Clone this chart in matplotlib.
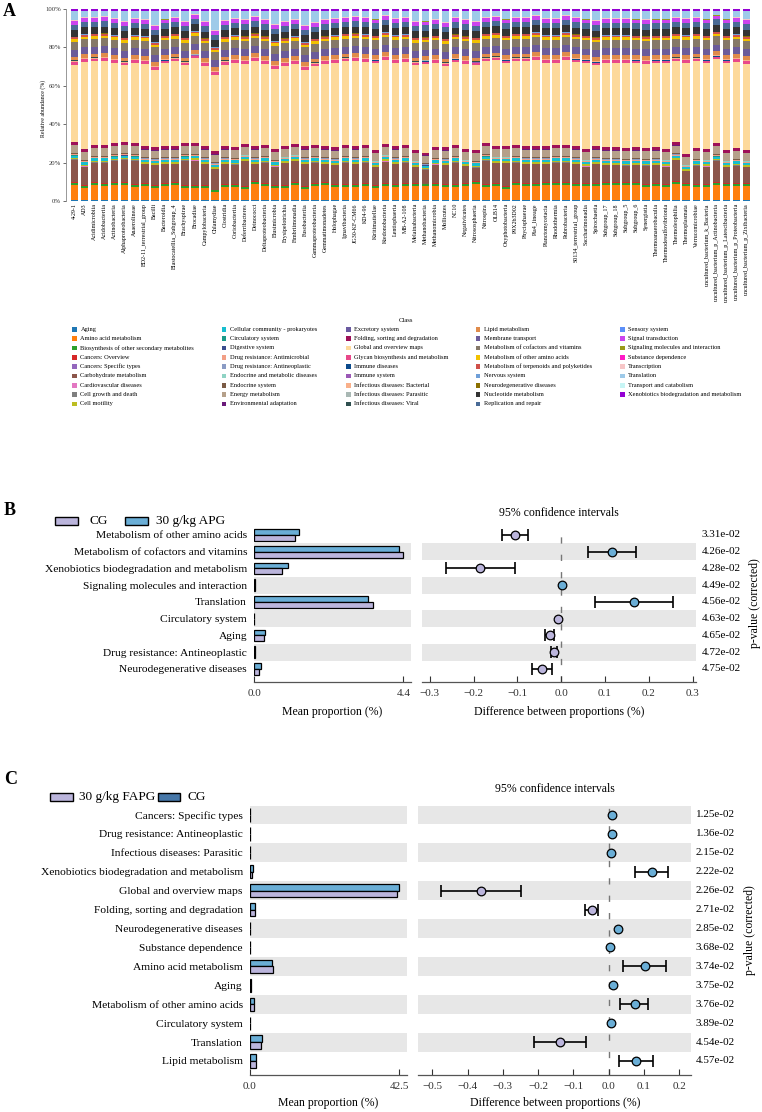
import matplotlib
matplotlib.use('Agg')
import matplotlib.pyplot as plt
from matplotlib.patches import Rectangle
from matplotlib.transforms import blended_transform_factory
import numpy as np

plt.rcParams['font.family'] = ['Liberation Serif', 'DejaVu Serif']
plt.rcParams['axes.unicode_minus'] = True

# ------------------------------------------------------------------ data A
taxa = ["4-29-1", "AD3", "Acidimicrobiia", "Acidobacteriia", "Actinobacteria",
        "Alphaproteobacteria", "Anaerolineae", "BD2-11_terrestrial_group", "Bacilli",
        "Bacteroidia", "Blastocatellia_Subgroup_4", "Brachyspirae", "Brocadiae",
        "Campylobacteria", "Chlamydiae", "Clostridia", "Coriobacteriia", "Deferribacteres",
        "Deinococci", "Deltaproteobacteria", "Elusimicrobia", "Erysipelotrichia",
        "Fimbriimonadia", "Fusobacteriia", "Gammaproteobacteria", "Gemmatimonadetes",
        "Holophagae", "Ignavibacteria", "JG30-KF-CM66", "KD4-96", "Kiritimatiellae",
        "Ktedonobacteria", "Lentisphaeria", "MB-A2-108", "Melainabacteria",
        "Methanobacteria", "Methanomicrobia", "Mollicutes", "NC10", "Negativicutes",
        "Nitrososphaeria", "Nitrospira", "OLB14", "Oxyphotobacteria", "P9X2b3D02",
        "Phycisphaerae", "Pla4_lineage", "Planctomycetacia", "Rhodothermia",
        "Rubrobacteria", "S0134_terrestrial_group", "Saccharimonadia", "Spirochaetia",
        "Subgroup_17", "Subgroup_18", "Subgroup_5", "Subgroup_6", "Synergistia",
        "Thermoanaerobaculia", "Thermodesulfovibrionia", "Thermoleophilia",
        "Thermoplasmata", "Verrucomicrobiae", "uncultured_bacterium_k_Bacteria",
        "uncultured_bacterium_p_Actinobacteria", "uncultured_bacterium_p_Latescibacteria",
        "uncultured_bacterium_p_Proteobacteria", "uncultured_bacterium_p_Zixibacteria"]

classes = ["Aging", "Amino acid metabolism", "Biosynthesis of other secondary metabolites",
           "Cancers: Overview", "Cancers: Specific types", "Carbohydrate metabolism",
           "Cardiovascular diseases", "Cell growth and death", "Cell motility",
           "Cellular community - prokaryotes", "Circulatory system", "Digestive system",
           "Drug resistance: Antimicrobial", "Drug resistance: Antineoplastic",
           "Endocrine and metabolic diseases", "Endocrine system", "Energy metabolism",
           "Environmental adaptation", "Excretory system", "Folding, sorting and degradation",
           "Global and overview maps", "Glycan biosynthesis and metabolism", "Immune diseases",
           "Immune system", "Infectious diseases: Bacterial", "Infectious diseases: Parasitic",
           "Infectious diseases: Viral", "Lipid metabolism", "Membrane transport",
           "Metabolism of cofactors and vitamins", "Metabolism of other amino acids",
           "Metabolism of terpenoids and polyketides", "Nervous system",
           "Neurodegenerative diseases", "Nucleotide metabolism", "Replication and repair",
           "Sensory system", "Signal transduction", "Signaling molecules and interaction",
           "Substance dependence", "Transcription", "Translation", "Transport and catabolism",
           "Xenobiotics biodegradation and metabolism"]

class_colors = ["#1f77b4", "#ff7f0e", "#2ca02c", "#d62728", "#9467bd", "#8c564b",
                "#e377c2", "#7f7f7f", "#bcbd22", "#17becf", "#1a9a88", "#3b4d8e",
                "#f29f86", "#8a9bc4", "#8fd3c4", "#7b5b45", "#b5a08a", "#6a1b7a",
                "#6a5aa0", "#9e1058", "#fdd99b", "#e8488a", "#0b4a8b", "#9b59b6",
                "#f9b08a", "#a9b8b4", "#2f4f4f", "#e08b4a", "#6b5b9a", "#857868",
                "#f2c200", "#d0504a", "#6f9fd8", "#8b7000", "#333333", "#4a6b96",
                "#5b8ff9", "#cc44ee", "#9a9a1a", "#ff1ac6", "#f7c6c7", "#9ecae9",
                "#c7f5f5", "#9400d3"]

# typical share (%) of each class; per-taxon lists below replace the major ones
typical_share = [0.5, 7.5, 1.0, 0.25, 0.05, 10.0, 0.1, 0.2, 0.8, 1.2, 0.03, 0.05,
                 0.5, 0.2, 0.1, 0.4, 4.0, 0.15, 0.03, 1.5, 43.0, 1.3, 0.1, 0.1,
                 0.4, 0.1, 0.1, 2.0, 3.5, 4.3, 1.2, 1.0, 0.1, 0.2, 3.5, 2.8,
                 0.05, 2.0, 0.05, 0.05, 0.4, 3.4, 0.2, 1.0]

amino_taxa = [8.0, 6.5, 8.0, 7.5, 8.0, 8.0, 7.0, 7.5, 6.5, 7.5,
              8.0, 6.5, 6.5, 6.5, 4.0, 7.0, 7.0, 6.0, 8.5, 7.5,
              6.5, 6.5, 8.0, 6.0, 7.5, 8.0, 7.0, 7.0, 7.0, 7.5,
              6.5, 7.5, 7.0, 7.5, 7.5, 7.5, 7.5, 7.0, 7.0, 7.5,
              8.5, 7.0, 7.5, 6.0, 8.0, 7.5, 7.5, 8.0, 8.0, 8.0,
              7.5, 7.5, 7.5, 8.0, 8.0, 8.0, 8.0, 7.0, 7.5, 7.0,
              8.5, 7.5, 7.0, 7.0, 8.0, 7.5, 7.5, 7.5]
carb_taxa = [11.6, 9.6, 10.1, 10.6, 11.1, 11.6, 12.1, 9.9, 10.4, 9.9,
             9.4, 12.6, 13.0, 10.9, 10.8, 10.4, 10.1, 12.8, 8.9, 10.6,
             9.6, 11.3, 10.8, 11.4, 10.6, 9.4, 9.9, 11.1, 10.4, 10.6,
             9.2, 11.3, 10.4, 10.6, 8.2, 7.3, 9.9, 9.9, 11.1, 8.7,
             7.0, 12.1, 10.3, 11.8, 10.1, 9.9, 9.9, 9.4, 10.1, 10.1,
             9.9, 8.7, 9.9, 8.9, 8.9, 8.6, 8.9, 9.6, 9.4, 9.2,
             11.0, 6.1, 9.6, 9.2, 11.1, 8.2, 9.1, 8.2]
global_taxa = [40.5, 45.5, 43.7, 44.0, 42.0, 40.1, 42.0, 43.2, 40.5, 43.5,
               44.4, 40.6, 44.6, 42.1, 40.0, 42.7, 44.0, 41.6, 44.7, 42.3,
               41.9, 41.7, 41.8, 40.0, 41.0, 43.0, 44.2, 43.7, 44.7, 43.5,
               45.2, 43.9, 43.7, 43.5, 44.0, 47.3, 44.4, 42.2, 43.3, 44.2,
               44.3, 42.7, 44.5, 43.1, 43.7, 44.4, 45.3, 43.7, 43.0, 44.6,
               44.0, 44.7, 42.5, 44.2, 44.2, 44.5, 44.0, 43.8, 44.0, 44.7,
               42.3, 47.5, 45.2, 44.7, 43.9, 45.2, 45.0, 44.7]
transl_taxa = [4.5, 3.0, 2.9, 2.6, 3.5, 5.0, 3.5, 4.0, 7.2, 3.8,
               2.9, 5.0, 1.5, 5.2, 9.8, 4.5, 3.5, 4.2, 2.6, 4.2,
               6.6, 5.2, 4.0, 7.2, 5.5, 4.2, 3.5, 2.9, 2.6, 3.0,
               3.8, 2.0, 3.5, 3.0, 5.0, 5.0, 4.0, 5.5, 3.2, 4.2,
               5.0, 2.9, 2.4, 3.8, 2.9, 2.9, 2.0, 3.5, 3.5, 2.0,
               3.2, 3.8, 4.8, 3.5, 3.5, 3.5, 3.8, 4.2, 3.8, 3.8,
               2.9, 3.5, 2.9, 3.8, 1.7, 3.8, 3.0, 4.2]

# ------------------------------------------------------------------ data B
namesB = ["Metabolism of other amino acids", "Metabolism of cofactors and vitamins",
          "Xenobiotics biodegradation and metabolism", "Signaling molecules and interaction",
          "Translation", "Circulatory system", "Aging", "Drug resistance: Antineoplastic",
          "Neurodegenerative diseases"]
apgB = [1.315, 4.28, 1.00, 0.03, 3.35, 0.006, 0.314, 0.025, 0.196]
cgB = [1.207, 4.40, 0.815, 0.03, 3.51, 0.006, 0.285, 0.025, 0.147]
diffB = [-0.106, 0.116, -0.185, 0.002, 0.167, -0.0076, -0.026, -0.017, -0.043]
loB = [-0.135, 0.062, -0.263, 0.002, 0.076, -0.0076, -0.0365, -0.024, -0.066]
hiB = [-0.077, 0.171, -0.105, 0.002, 0.256, -0.0076, -0.016, -0.009, -0.021]
pB = ["3.31e-02", "4.26e-02", "4.28e-02", "4.49e-02", "4.56e-02", "4.63e-02",
      "4.65e-02", "4.72e-02", "4.75e-02"]

# ------------------------------------------------------------------ data C
namesC = ["Cancers: Specific types", "Drug resistance: Antineoplastic",
          "Infectious diseases: Parasitic", "Xenobiotics biodegradation and metabolism",
          "Global and overview maps", "Folding, sorting and degradation",
          "Neurodegenerative diseases", "Substance dependence", "Amino acid metabolism",
          "Aging", "Metabolism of other amino acids", "Circulatory system", "Translation",
          "Lipid metabolism"]
cgC = [0.06, 0.03, 0.04, 0.85, 42.5, 1.52, 0.16, 0.04, 6.45, 0.32, 1.14, 0.03, 3.51, 1.80]
fapgC = [0.05, 0.02, 0.03, 0.73, 42.03, 1.55, 0.13, 0.03, 6.55, 0.30, 1.33, 0.02, 3.32, 1.90]
diffC = [0.010, 0.010, 0.007, 0.124, -0.361, -0.048, 0.027, 0.005, 0.103, 0.014,
         0.075, 0.006, -0.137, 0.078]
loC = [0.010, 0.010, 0.007, 0.074, -0.475, -0.066, 0.027, 0.005, 0.042, 0.014,
       0.033, 0.006, -0.212, 0.030]
hiC = [0.010, 0.010, 0.007, 0.170, -0.249, -0.029, 0.027, 0.005, 0.163, 0.014,
       0.111, 0.006, -0.064, 0.127]
pC = ["1.25e-02", "1.36e-02", "2.15e-02", "2.22e-02", "2.26e-02", "2.71e-02", "2.85e-02",
      "3.68e-02", "3.74e-02", "3.75e-02", "3.76e-02", "3.89e-02", "4.54e-02", "4.57e-02"]

BLUE = "#6aaed6"
LAV = "#bbb5dc"
BLUE_DARK = "#4677a8"
BAND = "#e7e7e7"

# ------------------------------------------------------------------ figure
W, H = 762, 1112
fig = plt.figure(figsize=(W / 100, H / 100), dpi=100)


def ax_px(l, t, r, b):
    return fig.add_axes([l / W, 1 - b / H, (r - l) / W, (b - t) / H])


def fx(x):
    return x / W


def fy(y):
    return 1 - y / H


# ------------------------------------------------------------------ panel A
axA = ax_px(66, 9, 752, 201)
nT = len(taxa)
mat = np.tile(np.array(typical_share, dtype=float)[:, None], (1, nT))
mat[classes.index("Amino acid metabolism")] = amino_taxa
mat[classes.index("Carbohydrate metabolism")] = carb_taxa
mat[classes.index("Global and overview maps")] = global_taxa
mat[classes.index("Translation")] = transl_taxa
mat = mat / mat.sum(axis=0) * 100.0

xpos = np.arange(nT)
bottom = np.zeros(nT)
for k in range(len(classes)):
    axA.bar(xpos, mat[k], bottom=bottom, width=0.76, color=class_colors[k], linewidth=0)
    bottom += mat[k]
axA.set_xlim(-0.85, nT - 1 + 0.55)
axA.set_ylim(0, 100)
axA.set_yticks([0, 20, 40, 60, 80, 100])
axA.set_yticklabels(["0%", "20%", "40%", "60%", "80%", "100%"], fontsize=4.8)
axA.set_xticks(xpos)
axA.set_xticklabels(taxa, rotation=90, fontsize=4.3)
axA.tick_params(axis='x', length=0, pad=1.5)
axA.tick_params(axis='y', length=2, width=0.5, pad=1.5, colors='#333333')
for s in ['top', 'right', 'bottom']:
    axA.spines[s].set_visible(False)
axA.spines['left'].set_color('#888888')
axA.spines['left'].set_linewidth(0.6)
fig.text(fx(43), fy(108), "Relative abundance (%)", rotation=90, ha='center', va='center',
         fontsize=4.2)

# legend A
fig.text(fx(406), fy(320), "Class", ha='center', va='center', fontsize=4.8)
col_x = [74.7, 224, 348.7, 478, 622.3]
for k, cls in enumerate(classes):
    c, r = divmod(k, 9)
    cx = col_x[c]
    cy = 329.3 + r * 9.33
    fig.patches.append(Rectangle((fx(cx - 2.3), fy(cy + 2.3)), 4.6 / W, 4.6 / H,
                                 transform=fig.transFigure, facecolor=class_colors[k],
                                 edgecolor='none'))
    fig.text(fx(cx + 5.8), fy(cy), cls, fontsize=4.6, ha='left', va='center')

fig.text(fx(3), fy(12), "A", fontsize=13, fontweight='bold', ha='left', va='center')


# ------------------------------------------------------------------ helpers for B/C
def bar_panel(ax, names, top_vals, bot_vals, top_color, bot_color, gray_rows, xmax, ticks,
              ticklabels, ylim_bottom):
    n = len(names)
    for i in gray_rows:
        ax.axhspan(i - 0.5, i + 0.5, color=BAND, lw=0, zorder=0)
    yy = np.arange(n)
    ax.barh(yy - 0.175, top_vals, height=0.35, color=top_color, edgecolor='black',
            linewidth=0.9, zorder=2)
    ax.barh(yy + 0.175, bot_vals, height=0.35, color=bot_color, edgecolor='black',
            linewidth=0.9, zorder=2)
    ax.set_ylim(ylim_bottom, -0.5)
    ax.set_xlim(0, xmax)
    ax.set_yticks(yy)
    ax.set_yticklabels(names, fontsize=8.25)
    ax.tick_params(axis='y', length=0, pad=5)
    ax.set_xticks(ticks)
    ax.set_xticklabels(ticklabels, fontsize=8)
    ax.tick_params(axis='x', direction='in', length=4, width=0.8, pad=5, colors='#333333')
    for s in ['top', 'right', 'left']:
        ax.spines[s].set_visible(False)
    ax.spines['bottom'].set_color('#555555')
    ax.spines['bottom'].set_linewidth(0.9)


def ci_panel(ax, diff, lo, hi, pvals, gray_rows, xlim, ticks, ylim_bottom, ptext_x):
    n = len(diff)
    for i in gray_rows:
        ax.axhspan(i - 0.5, i + 0.5, color=BAND, lw=0, zorder=0)
    ax.axvline(0, color='#777777', lw=1.0, ls=(0, (4.5, 8)), zorder=1)
    for i in range(n):
        d = diff[i]
        if hi[i] > lo[i]:
            ax.errorbar([d], [i], xerr=[[d - lo[i]], [hi[i] - d]], fmt='none',
                        ecolor='black', elinewidth=1.2, capsize=4.5, capthick=1.2, zorder=2)
        ax.plot([d], [i], 'o', ms=6.2, mfc=(BLUE if d > 0 else LAV), mec='black', mew=0.9,
                zorder=3)
    ax.set_ylim(ylim_bottom, -0.5)
    ax.set_xlim(*xlim)
    ax.set_yticks([])
    ax.set_xticks(ticks)
    ax.set_xticklabels([f"{t:.1f}".replace("-", "\u2212") for t in ticks], fontsize=8)
    ax.tick_params(axis='x', direction='in', length=4, width=0.8, pad=5, colors='#333333')
    for s in ['top', 'right', 'left']:
        ax.spines[s].set_visible(False)
    ax.spines['bottom'].set_color('#555555')
    ax.spines['bottom'].set_linewidth(0.9)
    tr = blended_transform_factory(ax.transAxes, ax.transData)
    for i, p in enumerate(pvals):
        ax.text(ptext_x, i, p, transform=tr, ha='left', va='center', fontsize=8)


# ------------------------------------------------------------------ panel B
axBL = ax_px(254, 526.6, 411, 681.7)
bar_panel(axBL, namesB, apgB, cgB, BLUE, LAV, [1, 3, 5, 7], 4.4 * 157 / 149.5, [0, 4.4],
          ["0.0", "4.4"], 8.76)
axBR = ax_px(422, 526.6, 695.7, 681.7)
ci_panel(axBR, diffB, loB, hiB, pB, [1, 3, 5, 7], (-0.318, 0.307),
         [-0.3, -0.2, -0.1, 0.0, 0.1, 0.2, 0.3], 8.76, 1.023)

fig.text(fx(4), fy(511), "B", fontsize=13, fontweight='bold', ha='left', va='center')
fig.text(fx(559), fy(513), "95% confidence intervals", ha='center', va='center', fontsize=8.5)
fig.text(fx(332.5), fy(712), "Mean proportion (%)", ha='center', va='center', fontsize=8.5)
fig.text(fx(559), fy(712), "Difference between proportions (%)", ha='center', va='center',
         fontsize=8.5)
fig.text(fx(755), fy(603), "p-value (corrected)", rotation=90, ha='center', va='center',
         fontsize=8.5)
# legend B
fig.patches.append(Rectangle((fx(55), fy(525)), 23 / W, 8 / H, transform=fig.transFigure,
                             facecolor=LAV, edgecolor='black', lw=1.0))
fig.text(fx(90), fy(521), "CG", fontsize=9.5, ha='left', va='center')
fig.patches.append(Rectangle((fx(125), fy(525)), 23 / W, 8 / H, transform=fig.transFigure,
                             facecolor=BLUE, edgecolor='black', lw=1.0))
fig.text(fx(156), fy(521), "30 g/kg APG", fontsize=9.5, ha='left', va='center')

# ------------------------------------------------------------------ panel C
grayC = [0, 2, 4, 6, 8, 10, 12]
axCL = ax_px(249.7, 805.5, 406.7, 1075)
bar_panel(axCL, namesC, cgC, fapgC, BLUE, LAV, grayC, 42.5 * 157 / 149.3, [0, 42.5],
          ["0.0", "42.5"], 13.74)
axCR = ax_px(418.3, 805.5, 691, 1075)
ci_panel(axCR, diffC, loC, hiC, pC, grayC, (-0.54, 0.234),
         [-0.5, -0.4, -0.3, -0.2, -0.1, 0.0, 0.1, 0.2], 13.74, 1.018)

fig.text(fx(4), fy(779), "C", fontsize=13, fontweight='bold', ha='left', va='center')
fig.text(fx(555), fy(789), "95% confidence intervals", ha='center', va='center', fontsize=8.5)
fig.text(fx(328), fy(1103), "Mean proportion (%)", ha='center', va='center', fontsize=8.5)
fig.text(fx(555), fy(1103), "Difference between proportions (%)", ha='center', va='center',
         fontsize=8.5)
fig.text(fx(750), fy(930), "p-value (corrected)", rotation=90, ha='center', va='center',
         fontsize=8.5)
# legend C
fig.patches.append(Rectangle((fx(50), fy(801)), 23 / W, 8 / H, transform=fig.transFigure,
                             facecolor=LAV, edgecolor='black', lw=1.0))
fig.text(fx(79), fy(797), "30 g/kg FAPG", fontsize=9.5, ha='left', va='center')
fig.patches.append(Rectangle((fx(158), fy(801)), 22 / W, 8 / H, transform=fig.transFigure,
                             facecolor=BLUE_DARK, edgecolor='black', lw=1.0))
fig.text(fx(188), fy(797), "CG", fontsize=9.5, ha='left', va='center')

fig.savefig("out.png", dpi=100, facecolor='white')
